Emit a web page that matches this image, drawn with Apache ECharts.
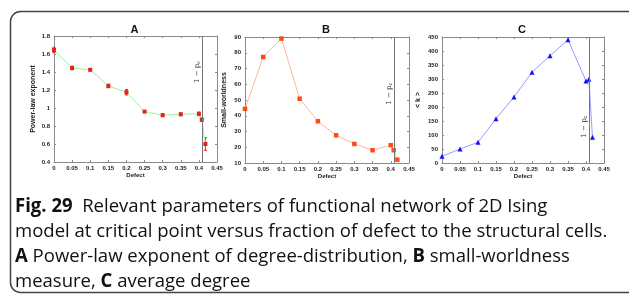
<!DOCTYPE html>
<html>
<head>
<meta charset="utf-8">
<script src="https://cdn.jsdelivr.net/npm/echarts@6/dist/echarts.min.js"></script>
<style>
html,body{margin:0;padding:0;background:#fff;}
#chart{width:629px;height:295px;}
</style>
</head>
<body>
<div id="chart"></div>
<script>
// ---- data ----
const defect = [0, 0.05, 0.1, 0.15, 0.2, 0.25, 0.3, 0.35, 0.4, 0.408, 0.418];
const exponentA = [1.645, 1.445, 1.425, 1.245, 1.175, 0.96, 0.92, 0.93, 0.935, 0.87, 0.6];
const errorA = [0.03, 0.02, 0.012, 0.02, 0.03, 0.01, 0.015, 0.015, 0.02, 0.02, 0.07];
const smallWorldB = [44.4, 77.3, 89, 50.8, 36.5, 27.6, 22.1, 18.1, 21.3, 18.1, 12.1];
const avgDegreeC = [24, 50, 74, 158, 236, 324, 383, 440, 293, 299, 92];
const criticalDefect = 0.408;
const panelTitles = ['A', 'B', 'C'];
const yNames = ['Power-law exponent', 'Small-worldness', '< k >'];
const xName = 'Defect';
const captionLines = [
  [['b', 'Fig. 29'], ['r', '  Relevant parameters of functional network of 2D Ising']],
  [['r', 'model at critical point versus fraction of defect to the structural cells.']],
  [['b', 'A'], ['r', ' Power-law exponent of degree-distribution, '], ['b', 'B'], ['r', ' small-worldness']],
  [['r', 'measure, '], ['b', 'C'], ['r', ' average degree']]
];

const chart = echarts.init(document.getElementById('chart'), null, {renderer: 'canvas'});

const grids = [
  {left: 54, top: 36, width: 163, height: 126},
  {left: 245, top: 37, width: 164, height: 126},
  {left: 442, top: 37, width: 162, height: 126}
];
const yRanges = [
  {min: 0.4, max: 1.8, interval: 0.2},
  {min: 10, max: 90, interval: 10},
  {min: 0, max: 450, interval: 50}
];
const axisColor = '#8a8a8a';
const labelFont = {fontSize: 6, fontWeight: 'bold', color: '#222', fontFamily: 'Liberation Sans'};

const xAxes = [], yAxes = [];
for (let i = 0; i < 3; i++) {
  xAxes.push({
    type: 'value', gridIndex: i, min: 0, max: 0.45, interval: 0.05,
    name: xName, nameLocation: 'middle', nameGap: 10,
    nameTextStyle: Object.assign({}, labelFont),
    axisLine: {show: true, onZero: false, lineStyle: {color: axisColor, width: 1}},
    axisTick: {show: true, inside: true, length: 2, lineStyle: {color: axisColor}},
    axisLabel: Object.assign({margin: 3, formatter: v => String(+v.toFixed(2))}, labelFont),
    splitLine: {show: false}
  });
  xAxes.push({
    type: 'value', gridIndex: i, position: 'top', min: 0, max: 0.45, interval: 0.05,
    axisLine: {show: true, onZero: false, lineStyle: {color: axisColor, width: 1}},
    axisTick: {show: true, inside: true, length: 2, lineStyle: {color: axisColor}},
    axisLabel: {show: false}, splitLine: {show: false}
  });
  yAxes.push({
    type: 'value', gridIndex: i, min: yRanges[i].min, max: yRanges[i].max, interval: yRanges[i].interval,
    name: yNames[i], nameLocation: 'middle', nameGap: i === 2 ? 20 : 17,
    nameTextStyle: Object.assign({}, labelFont, {fontSize: 7}),
    axisLine: {show: true, onZero: false, lineStyle: {color: axisColor, width: 1}},
    axisTick: {show: true, inside: true, length: 2, lineStyle: {color: axisColor}},
    axisLabel: Object.assign({margin: 4, formatter: v => String(+v.toFixed(1))}, labelFont),
    splitLine: {show: false}
  });
  yAxes.push({
    type: 'value', gridIndex: i, position: 'right', min: yRanges[i].min, max: yRanges[i].max, interval: yRanges[i].interval,
    axisLine: {show: true, onZero: false, lineStyle: {color: axisColor, width: 1}},
    axisTick: {show: true, inside: true, length: 2, lineStyle: {color: axisColor}},
    axisLabel: {show: false}, splitLine: {show: false}
  });
}

const critLine = {
  silent: true, symbol: 'none', animation: false,
  lineStyle: {color: '#777', width: 1, type: 'solid'},
  label: {show: false},
  data: [{xAxis: criticalDefect}]
};

const series = [
  {
    type: 'line', xAxisIndex: 0, yAxisIndex: 0,
    data: defect.map((d, k) => [d, exponentA[k]]),
    lineStyle: {color: '#9ef29e', width: 1}, symbol: 'rect', symbolSize: [4, 4],
    itemStyle: {color: '#e8201a'}, animation: false, markLine: critLine
  },
  {
    type: 'custom', xAxisIndex: 0, yAxisIndex: 0, animation: false, z: 3,
    data: defect.map((d, k) => [d, exponentA[k] - errorA[k], exponentA[k] + errorA[k]]),
    renderItem: function (params, api) {
      const lo = api.coord([api.value(0), api.value(1)]);
      const hi = api.coord([api.value(0), api.value(2)]);
      const w = 1.5;
      const st = {stroke: '#e8201a', lineWidth: 1};
      return {type: 'group', children: [
        {type: 'line', shape: {x1: lo[0], y1: lo[1], x2: hi[0], y2: hi[1]}, style: st},
        {type: 'line', shape: {x1: lo[0] - w, y1: lo[1], x2: lo[0] + w, y2: lo[1]}, style: st},
        {type: 'line', shape: {x1: hi[0] - w, y1: hi[1], x2: hi[0] + w, y2: hi[1]}, style: st}
      ]};
    }
  },
  {
    type: 'line', xAxisIndex: 2, yAxisIndex: 2,
    data: defect.map((d, k) => [d, smallWorldB[k]]),
    lineStyle: {color: '#ffb89a', width: 1}, symbol: 'rect', symbolSize: [4.5, 4.5],
    itemStyle: {color: '#ff4a12'}, animation: false, markLine: critLine
  },
  {
    type: 'line', xAxisIndex: 4, yAxisIndex: 4,
    data: defect.map((d, k) => [d, avgDegreeC[k]]),
    lineStyle: {color: '#9a9aff', width: 1}, symbol: 'triangle', symbolSize: [5, 5],
    itemStyle: {color: '#1010ff'}, animation: false, markLine: critLine
  }
];

const titleGraphics = panelTitles.map((t, i) => ({
  type: 'text', left: grids[i].left + grids[i].width / 2 - 5, top: 24,
  style: {text: t, font: 'bold 11px "Liberation Sans"', fill: '#111'}
}));

const captionGraphics = captionLines.map((parts, i) => ({
  type: 'text', x: 15, y: 197 + i * 25, scaleX: 0.975,
  style: {
    text: parts.map(p => '{' + p[0] + '|' + p[1] + '}').join(''),
    verticalAlign: 'alphabetic', textBaseline: 'alphabetic',
    rich: {
      b: {fontFamily: 'Open Sans', fontSize: 19, fontWeight: 'bold', fill: '#111'},
      r: {fontFamily: 'Open Sans', fontSize: 19, fill: '#111'}
    }
  }
}));

const frame = {
  type: 'rect', shape: {x: 10.5, y: 11.5, width: 630, height: 281, r: 10},
  style: {fill: 'none', stroke: '#444', lineWidth: 1.5}, silent: true
};

chart.setOption({
  backgroundColor: '#fff',
  animation: false,
  grid: grids.map(g => Object.assign({}, g, {containLabel: false})),
  xAxis: xAxes,
  yAxis: yAxes,
  series: series,
  graphic: [frame].concat(titleGraphics, captionGraphics)
});

// rotated "1 − p_c" labels beside the critical line, positioned through the axes
const labelY = [1.4, 54, 130];
const critLabels = [0, 1, 2].map(i => {
  const p = chart.convertToPixel({xAxisIndex: i * 2, yAxisIndex: i * 2}, [criticalDefect, labelY[i]]);
  return {
    type: 'text', x: p[0] - 5, y: p[1], rotation: Math.PI / 2,
    style: {
      text: '{n|1 − p}{s|c}', align: 'center', verticalAlign: 'middle',
      rich: {
        n: {fontFamily: 'DejaVu Serif', fontSize: 7, fill: '#222'},
        s: {fontFamily: 'DejaVu Serif', fontSize: 5, fill: '#222', padding: [4, 0, 0, 0]}
      }
    }
  };
});
chart.setOption({graphic: [frame].concat(titleGraphics, captionGraphics, critLabels)}, {replaceMerge: ['graphic']});
</script>
</body>
</html>
